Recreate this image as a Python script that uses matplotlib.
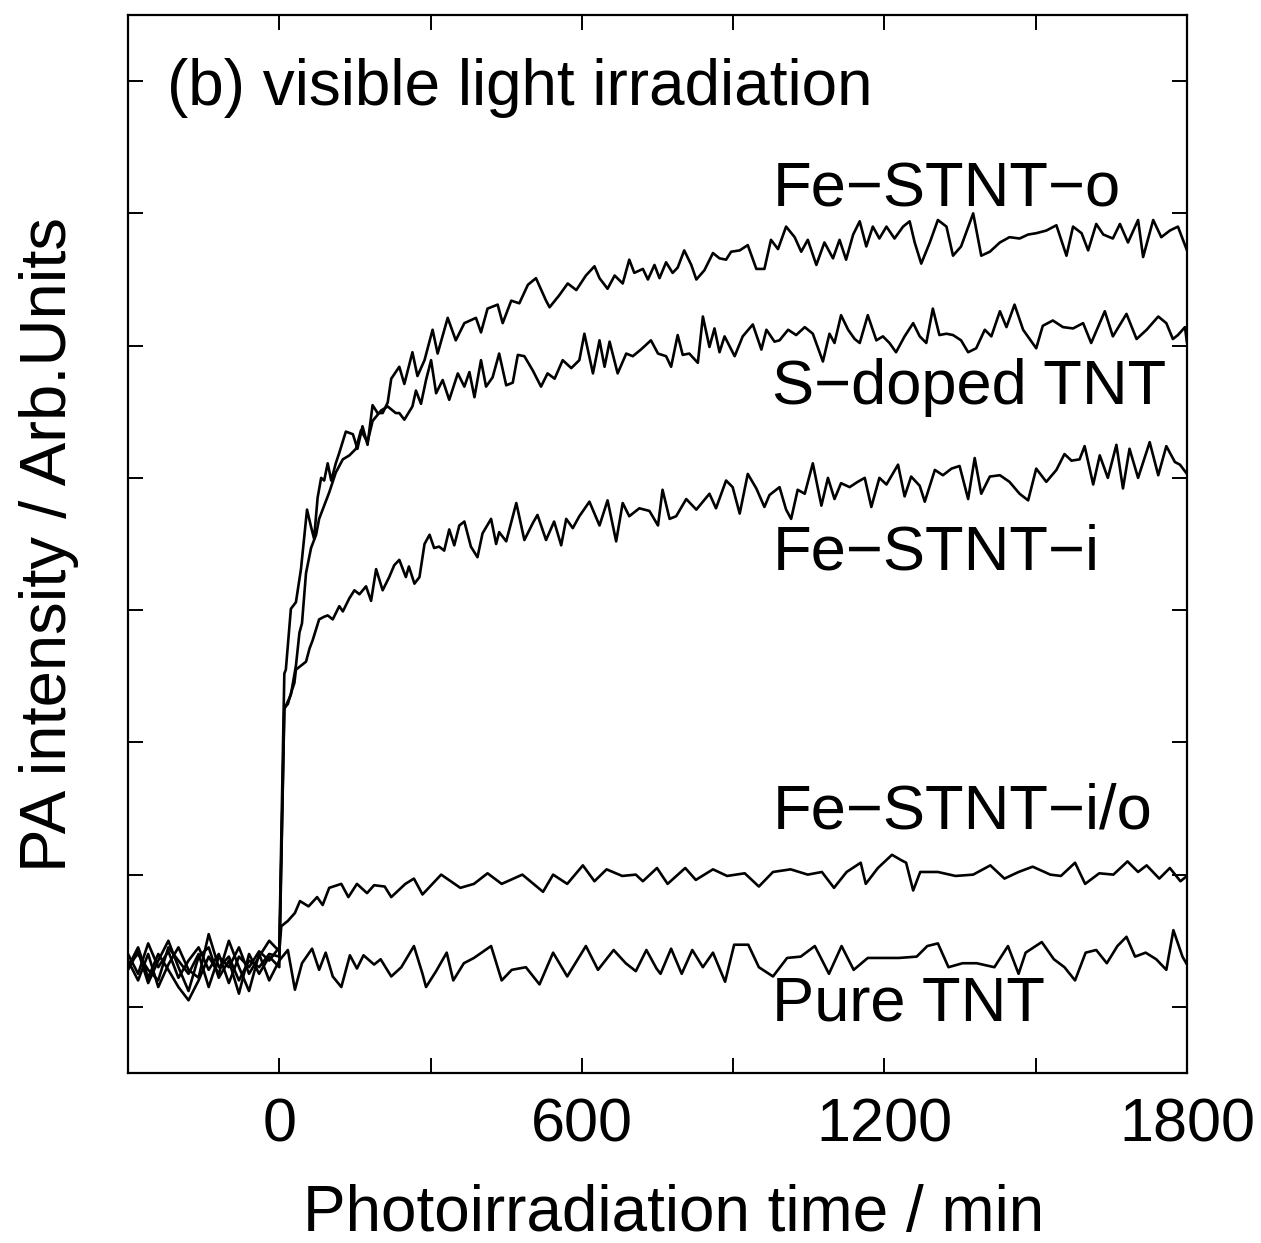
import matplotlib
matplotlib.use("Agg")
import matplotlib.pyplot as plt
from matplotlib.ticker import FixedLocator, NullFormatter

plt.rcParams['font.family'] = ['Liberation Sans', 'DejaVu Sans']

# ---- data (time in min, PA intensity in arbitrary units) ----
t_pre = [-300, -280, -260, -240, -220, -200, -180, -160, -140, -120,
         -100, -80, -60, -40, -20, 0]

o_pre = [0.40, 0.25, 0.48, 0.30, 0.42, 0.22, 0.35, 0.45, 0.28, 0.40,
         0.18, 0.38, 0.30, 0.42, 0.35, 0.45]
o_t = [10, 13, 23, 33, 43, 50, 55, 63, 69, 76, 83, 89, 96, 103, 112, 119, 132,
       146, 155, 165, 175, 185, 195, 205, 215, 222,
       238, 248, 264, 274, 288, 304, 314, 334, 350, 367, 390, 400, 413, 433,
       443, 460, 476, 493, 509, 529, 536, 555, 572, 589, 608, 625, 635, 651,
       665, 681, 694, 704, 721, 731, 744, 754, 767, 780, 790, 803, 817, 827,
       843, 860, 873, 886, 896, 913, 929, 946, 962, 975, 989, 1005, 1022,
       1035, 1048, 1065, 1081, 1098, 1111, 1124, 1138, 1151, 1164, 1177, 1190,
       1204, 1220, 1237, 1250, 1260, 1273, 1290, 1306, 1323, 1336, 1352, 1376,
       1392, 1409, 1429, 1448, 1468, 1485, 1501, 1521, 1541, 1561, 1574, 1591,
       1604, 1620, 1634, 1653, 1667, 1683, 1703, 1713, 1733, 1749, 1766, 1782,
       1792, 1800]
o_v = [2.52, 2.55, 3.01, 3.06, 3.31, 3.57, 3.76, 3.63, 3.54, 3.85, 4.00, 3.98,
       4.11, 3.98, 4.11, 4.19, 4.35, 4.33, 4.22, 4.39, 4.25, 4.55, 4.49, 4.49,
       4.57, 4.75,
       4.84, 4.71, 4.95, 4.77, 4.89, 5.12, 4.94, 5.21, 5.04, 5.17, 5.21, 5.10,
       5.28, 5.31, 5.17, 5.34, 5.32, 5.46, 5.51, 5.34, 5.29, 5.38, 5.47, 5.42,
       5.53, 5.60, 5.51, 5.43, 5.53, 5.47, 5.65, 5.55, 5.58, 5.50, 5.61, 5.51,
       5.63, 5.55, 5.59, 5.72, 5.61, 5.50, 5.57, 5.70, 5.66, 5.65, 5.71, 5.72,
       5.76, 5.58, 5.58, 5.80, 5.73, 5.90, 5.82,
       5.71, 5.80, 5.61, 5.78, 5.66, 5.80, 5.65, 5.84, 5.94, 5.75, 5.90, 5.81,
       5.90, 5.81, 5.90, 5.94, 5.78, 5.62, 5.78, 5.95, 5.90, 5.68, 5.75, 6.00,
       5.68, 5.71, 5.78, 5.82, 5.81, 5.84, 5.85, 5.87, 5.91, 5.68, 5.90, 5.85,
       5.72, 5.92, 5.84, 5.81, 5.92, 5.78, 5.95, 5.67, 5.95, 5.82, 5.87, 5.90,
       5.80, 5.72]

s_pre = [0.28, 0.42, 0.18, 0.35, 0.50, 0.30, 0.12, 0.38, 0.45, 0.22,
         0.35, 0.10, 0.40, 0.25, 0.38, 0.30]
s_t = [10, 23, 33, 40, 45, 53, 63, 73, 79, 89, 99, 112, 126, 139, 152, 162,
       175, 185, 202, 215, 231,
       238, 248, 264, 271, 281, 291, 301, 311, 324, 337, 354, 367, 377, 387,
       400, 410, 423, 436, 450, 463, 473, 486, 503, 519, 532, 546, 562, 579,
       595, 605, 622, 635, 645, 655, 671, 688, 701, 717, 737, 751, 767, 777,
       790, 800, 813, 830, 840, 853, 863, 873, 883, 903, 919, 939, 956, 966,
       982,
       992, 1009, 1025, 1042, 1058, 1078, 1091, 1101, 1114, 1128, 1141, 1151,
       1167, 1184, 1197, 1210, 1223, 1240, 1257, 1270, 1283, 1296, 1309, 1323,
       1336, 1352, 1366, 1382, 1399, 1412, 1429, 1442, 1458, 1475, 1501, 1514,
       1534, 1554, 1574, 1594, 1610, 1637, 1653, 1680, 1700, 1720, 1743, 1759,
       1772, 1782, 1796, 1800]
s_v = [2.25, 2.36, 2.58, 2.83, 2.90, 3.28, 3.47, 3.57, 3.69, 3.79, 3.89, 4.04,
       4.14, 4.17, 4.22, 4.36, 4.27, 4.43, 4.51, 4.54, 4.49,
       4.49, 4.44, 4.54, 4.66, 4.56, 4.74, 4.89, 4.64, 4.74, 4.59, 4.79, 4.69,
       4.80, 4.61, 4.89, 4.69, 4.76, 4.94, 4.70, 4.72, 4.93, 4.92, 4.81, 4.69,
       4.79, 4.75, 4.89, 4.83, 4.89, 5.09, 4.79, 5.04, 4.84, 5.03, 4.79, 4.94,
       4.92, 4.97, 5.04, 4.94, 4.92, 4.84, 5.08, 4.93, 4.94, 4.87, 5.22, 4.99,
       5.13, 4.95, 5.07, 4.92, 5.07, 5.16, 4.97, 5.12, 5.03,
       5.04, 5.12, 5.08, 5.14, 5.09, 4.88, 5.09, 5.02, 5.23, 5.12, 5.05, 5.02,
       5.23, 5.04, 5.07, 5.02, 4.95, 5.07, 5.17, 5.07, 5.02, 5.28, 5.08, 5.09,
       5.08, 5.04, 4.95, 4.98, 5.12, 5.07, 5.26, 5.14, 5.31, 5.12, 4.98, 5.15,
       5.19, 5.14, 5.13, 5.17, 5.02, 5.26, 5.07, 5.24, 5.05, 5.12, 5.22, 5.17,
       5.05, 5.08, 5.14, 5.02]

i_pre = [0.35, 0.20, 0.40, 0.15, 0.32, 0.45, 0.28, 0.22, 0.55, 0.30,
         0.38, 0.20, 0.35, 0.30, 0.40, 0.38]
i_t = [10, 17, 23, 30, 33, 43, 53, 60, 66, 79, 89, 96, 106, 119, 126, 139, 149,
       159, 172, 182, 192, 205, 218, 228,
       238, 251, 257, 268, 278, 288, 298, 307, 317, 327, 337, 347, 357, 367,
       380, 393, 403, 420, 430, 436, 450, 470, 486, 503, 512, 529, 545, 559,
       569, 582, 595, 615, 635, 651, 668, 681, 694, 714, 734, 751, 760, 774,
       787, 807, 827, 853, 866, 886, 899, 913, 929, 946, 962, 972,
       992, 1005, 1015, 1028, 1042, 1058, 1075, 1088, 1101, 1114, 1131, 1147,
       1161, 1174, 1190, 1204, 1227, 1240, 1253, 1270, 1280, 1300, 1316, 1333,
       1349, 1366, 1379, 1392, 1409, 1429, 1448, 1468, 1485, 1501, 1521, 1541,
       1557, 1571, 1587, 1597, 1614, 1627, 1643, 1660, 1673, 1686, 1703, 1726,
       1743, 1759, 1776, 1786, 1800]
i_v = [2.26, 2.29, 2.37, 2.45, 2.55, 2.58, 2.61, 2.71, 2.77, 2.93, 2.95, 2.96,
       2.93, 3.03, 2.99, 3.09, 3.15, 3.12, 3.18, 3.07, 3.31, 3.15, 3.25, 3.34,
       3.38, 3.25, 3.33, 3.20, 3.25, 3.50, 3.57, 3.47, 3.48, 3.45, 3.61, 3.49,
       3.64, 3.67, 3.48, 3.40, 3.58, 3.69, 3.50, 3.59, 3.52, 3.81, 3.53, 3.66,
       3.72, 3.53, 3.67, 3.49, 3.69, 3.62, 3.71, 3.82, 3.64, 3.83, 3.52, 3.81,
       3.71, 3.77, 3.75, 3.64, 3.91, 3.69, 3.71, 3.84, 3.76, 3.88, 3.77, 3.98,
       3.93, 3.73, 4.03, 3.92, 3.78, 3.87,
       3.93, 3.76, 3.69, 3.91, 3.88, 4.11, 3.79, 4.00, 3.84, 3.96, 3.93, 3.97,
       4.00, 3.78, 4.00, 3.95, 4.10, 3.86, 4.01, 3.94, 3.82, 4.06, 4.02, 4.07,
       4.09, 3.84, 4.15, 3.88, 4.01, 4.02, 3.97, 3.88, 3.83, 4.07, 3.97, 4.06,
       4.18, 4.13, 4.14, 4.24, 3.95, 4.17, 4.00, 4.25, 3.92, 4.22, 4.00, 4.27,
       4.02, 4.24, 4.12, 4.10, 4.03]

io_pre = [0.32, 0.40, 0.28, 0.20, 0.45, 0.35, 0.25, 0.40, 0.15, 0.38,
          0.30, 0.45, 0.25, 0.38, 0.50, 0.42]
io_t = [4, 17, 31, 41, 58, 75, 86, 99, 123, 137, 154, 174, 188, 209, 222, 250,
        267, 284, 321, 359, 386, 413, 441, 482, 523, 543, 571, 602, 625, 649,
        680, 707, 721, 749, 770, 805, 826, 860, 888, 923, 951, 979, 1014, 1048,
        1076, 1100, 1125, 1153, 1163, 1187, 1215, 1233, 1243, 1257, 1271, 1306,
        1341, 1376, 1410, 1438, 1466, 1494, 1529, 1550, 1578, 1598, 1626, 1654,
        1682, 1703, 1720, 1745, 1766, 1787, 1800]
io_v = [0.61, 0.65, 0.71, 0.80, 0.76, 0.83, 0.77, 0.90, 0.93, 0.83, 0.93, 0.86,
        0.92, 0.91, 0.83, 0.93, 0.97, 0.85, 1.00, 0.90, 0.93, 1.01, 0.93, 1.00,
        0.87, 1.00, 0.93, 1.07, 0.95, 1.04, 0.99, 1.00, 0.95, 1.05, 0.93, 1.05,
        0.96, 1.04, 0.99, 1.01, 0.91, 1.02, 1.04, 1.00, 1.02, 0.90, 1.02, 1.09,
        0.93, 1.05, 1.15, 1.11, 1.09, 0.88, 1.02, 1.02, 0.99, 1.00, 1.07, 0.97,
        1.02, 1.06, 1.00, 0.99, 1.09, 0.93, 1.01, 1.00, 1.10, 1.02, 1.07, 0.97,
        1.05, 0.95, 0.99]

p_pre = [0.30, 0.45, 0.22, 0.40, 0.28, 0.15, 0.05, 0.20, 0.38, 0.25,
         0.50, 0.30, 0.12, 0.40, 0.20, 0.35]
p_t = [17, 31, 45, 65, 79, 92, 106, 123, 140, 154, 167, 188, 201, 222, 242,
       267, 284, 291, 311, 332, 345, 366, 386, 420, 441, 461, 489, 516, 543,
       571, 608, 632, 663, 687, 707, 728, 748, 756, 777, 798, 819, 840, 860,
       884, 902, 930, 951, 979, 1007, 1034, 1062, 1090, 1115, 1139, 1167, 1194,
       1229, 1264, 1285, 1306, 1327, 1355, 1383, 1418, 1445, 1466, 1480, 1512,
       1536, 1557, 1578, 1599, 1620, 1641, 1662, 1680, 1697, 1718, 1739, 1759,
       1773, 1791, 1800]
p_v = [0.43, 0.13, 0.33, 0.44, 0.28, 0.41, 0.23, 0.15, 0.39, 0.29, 0.39, 0.32,
       0.36, 0.23, 0.30, 0.46, 0.25, 0.15, 0.27, 0.41, 0.20, 0.33, 0.37, 0.46,
       0.20, 0.28, 0.30, 0.17, 0.41, 0.23, 0.46, 0.28, 0.43, 0.33, 0.27, 0.43,
       0.29, 0.25, 0.44, 0.25, 0.43, 0.30, 0.41, 0.19, 0.47, 0.47, 0.30, 0.23,
       0.37, 0.38, 0.46, 0.25, 0.46, 0.28, 0.37, 0.37, 0.37, 0.38, 0.46, 0.48,
       0.30, 0.33, 0.33, 0.30, 0.46, 0.25, 0.41, 0.49, 0.36, 0.30, 0.20, 0.41,
       0.43, 0.33, 0.46, 0.53, 0.38, 0.41, 0.36, 0.28, 0.58, 0.38, 0.32]

labels = ["Fe\u2212STNT\u2212o", "S\u2212doped TNT", "Fe\u2212STNT\u2212i",
          "Fe\u2212STNT\u2212i/o", "Pure TNT"]
label_y = [6.18, 4.68, 3.43, 1.47, 0.02]
x_ticks = [0, 600, 1200, 1800]
x_minor = [300, 900, 1500]
y_ticks = [0, 1, 2, 3, 4, 5, 6, 7]

# ---- figure ----
W, H = 1261, 1243
fig = plt.figure(figsize=(W / 100, H / 100), dpi=100)
ax = fig.add_axes([128 / W, 1 - 1073 / H, (1187 - 128) / W, (1073 - 15) / H])

series = [(o_pre, o_t, o_v), (s_pre, s_t, s_v), (i_pre, i_t, i_v),
          (io_pre, io_t, io_v), (p_pre, p_t, p_v)]
for pre, tt, vv in series:
    ax.plot(t_pre + tt, pre + vv, color='black', lw=1.9,
            solid_joinstyle='round', solid_capstyle='round')

ax.set_xlim(-300, 1800)
ax.set_ylim(-0.5, 7.5)
ax.xaxis.set_major_locator(FixedLocator(x_ticks))
ax.xaxis.set_minor_locator(FixedLocator(x_minor))
ax.yaxis.set_major_locator(FixedLocator(y_ticks))
ax.yaxis.set_major_formatter(NullFormatter())
ax.tick_params(which='both', direction='in', length=10.8, width=1.4,
               top=True, right=True, labelsize=44, pad=18)
for sp in ax.spines.values():
    sp.set_linewidth(1.6)

ax.set_xlabel("Photoirradiation time / min", fontsize=46, labelpad=21,
              x=0.5156)
ax.set_ylabel("PA intensity / Arb.Units", fontsize=47, labelpad=17)

ax.text(-222, 6.95, "(b) visible light irradiation", fontsize=46,
        ha='left', va='center')
for lab, ly in zip(labels, label_y):
    ax.text(978, ly, lab, fontsize=45.5, ha='left', va='center')

fig.savefig("out.png", dpi=100)
